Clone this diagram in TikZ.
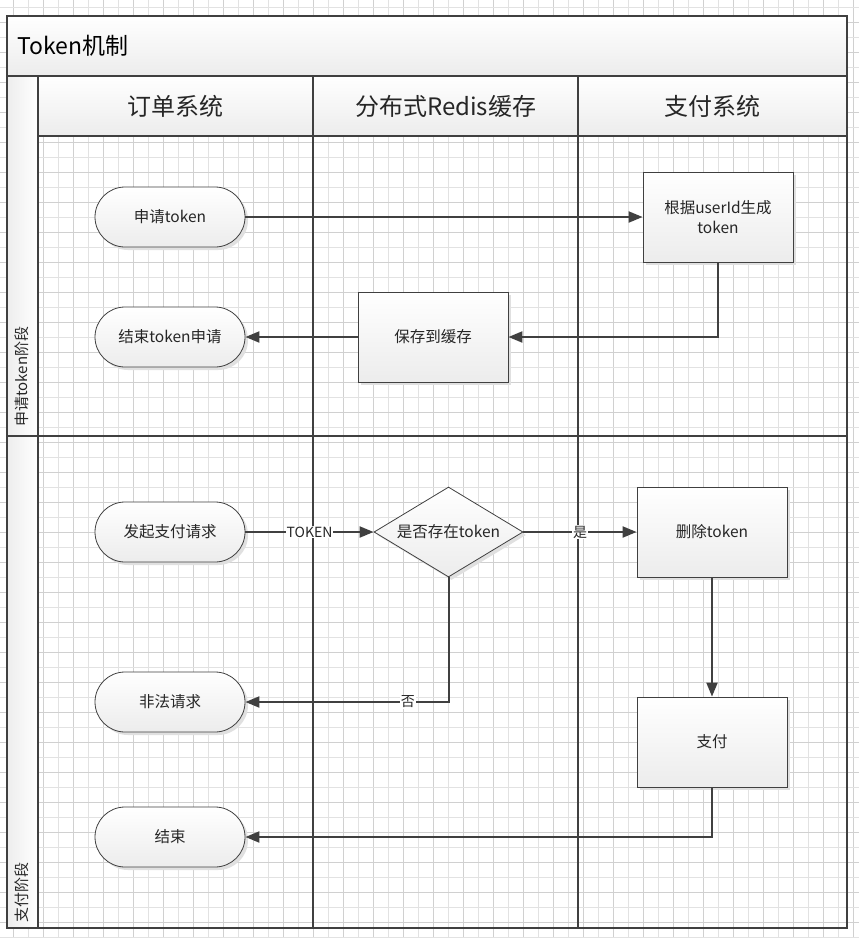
\documentclass[tikz,border=0pt]{standalone}
\usepackage{fontspec}
\setmainfont{Noto Sans CJK SC}
\usetikzlibrary{arrows.meta,shapes.misc,shapes.geometric,shadows}
\definecolor{lc}{RGB}{64,64,64}
\definecolor{gminor}{RGB}{226,226,226}
\definecolor{gmajor}{RGB}{208,208,208}
\definecolor{shadeb}{RGB}{236,236,236}
\definecolor{txt}{RGB}{38,38,38}
\begin{document}
\begin{tikzpicture}[x=1pt,y=-1pt,
  frame/.style={draw=lc, line width=2pt},
  cellfill/.style={top color=white, bottom color=shadeb},
  shp/.style={draw=lc, line width=0.8pt, top color=white, bottom color=shadeb,
    text=txt, font=\fontsize{15.5}{20}\selectfont, align=center,
    drop shadow={shadow xshift=3pt, shadow yshift=-3pt, fill=black!12, opacity=1}},
  term/.style={shp, rounded rectangle, minimum width=150pt, minimum height=60pt, inner sep=0pt},
  proc/.style={shp, rectangle, minimum width=150pt, minimum height=90pt},
  dec/.style={shp, diamond, aspect=1.65, minimum width=149pt, minimum height=90pt, inner sep=0pt},
  arr/.style={draw=lc, line width=2pt, -{Triangle[length=14pt,width=11pt]}},
  lbl/.style={fill=white, inner sep=1pt, text=txt, font=\fontsize{14}{16}\selectfont},
  hdr/.style={text=txt, font=\fontsize{24}{27}\selectfont},
  phase/.style={rotate=90, anchor=west, inner sep=0pt, text=txt, font=\fontsize{15}{18}\selectfont}
]
\useasboundingbox (0,0) rectangle (859,938);
\fill[white] (0,0) rectangle (859,938);
% grid
\foreach \k in {0,...,28} {
  \draw[gmajor, line width=0.8pt] ({13.3+30*\k},0) -- ({13.3+30*\k},938);
  \draw[gminor, line width=0.8pt] ({28.3+30*\k},0) -- ({28.3+30*\k},938);
}
\foreach \k in {0,...,31} {
  \draw[gminor, line width=0.8pt] (0,{7.3+30*\k}) -- (859,{7.3+30*\k});
  \draw[gmajor, line width=0.8pt] (0,{22.3+30*\k}) -- (859,{22.3+30*\k});
}
% pool fills
\path[cellfill] (7,16) rectangle (847,76);
\path[cellfill] (38,76) rectangle (847,136);
\path[left color=black!7, right color=white] (7,76) rectangle (38,928);
% pool lines
\draw[frame] (7,16) rectangle (847,928);
\draw[frame] (7,76) -- (847,76);
\draw[frame] (38,136) -- (847,136);
\draw[frame] (38,76) -- (38,928);
\draw[frame] (313,76) -- (313,928);
\draw[frame] (578,76) -- (578,928);
\draw[frame] (7,436) -- (847,436);
% texts
\node[anchor=west, text=black, font=\fontsize{23}{26}\selectfont] (title) at (14,46) {Token机制};
\node[hdr] (h1) at (175.5,106) {订单系统};
\node[hdr] (h2) at (445.5,106) {分布式Redis缓存};
\node[hdr] (h3) at (712.5,106) {支付系统};
\node[phase] (p1) at (22,427) {申请token阶段};
\node[phase] (p2) at (22,923) {支付阶段};
% shapes
\node[term] (apply) at (170,217) {申请token};
\node[proc] (gen) at (718,217) {根据userId生成\\token};
\node[proc] (save) at (433,337) {保存到缓存};
\node[term] (endapply) at (170,337) {结束token申请};
\node[term] (start) at (170,532) {发起支付请求};
\node[dec] (check) at (448.5,532) {是否存在token};
\node[proc] (del) at (712,532) {删除token};
\node[term] (illegal) at (170,702) {非法请求};
\node[proc] (pay) at (712,742) {支付};
\node[term] (fin) at (170,837) {结束};
% connectors
\draw[arr] (apply.east) -- (gen.west);
\draw[arr] (gen.south) |- (save.east);
\draw[arr] (save.west) -- (endapply.east);
\draw[arr] (start.east) -- node[lbl] {TOKEN} (check.west);
\draw[arr] (check.east) -- node[lbl] {是} (del.west);
\draw[arr] (check.south) |- node[lbl, pos=0.6] {否} (illegal.east);
\draw[arr] (del.south) -- (pay.north);
\draw[arr] (pay.south) |- (fin.east);
\end{tikzpicture}
\end{document}
